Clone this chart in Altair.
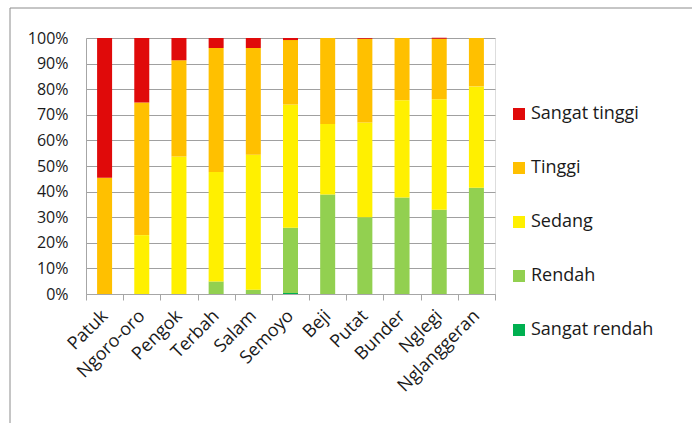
import altair as alt
import pandas as pd

# Villages (x categories)
desa = ["Patuk", "Ngoro-oro", "Pengok", "Terbah", "Salam", "Semoyo",
        "Beji", "Putat", "Bunder", "Nglegi", "Nglanggeran"]

# Share of each class per village (percent)
sangat_rendah = [0.0, 0.0, 0.0, 0.0, 0.0, 0.4, 0.0, 0.0, 0.0, 0.0, 0.0]
rendah        = [0.0, 0.0, 0.0, 4.9, 1.7, 25.5, 38.9, 30.0, 37.7, 32.9, 41.5]
sedang        = [0.0, 23.0, 53.7, 42.8, 52.7, 48.1, 27.5, 37.0, 38.0, 43.2, 39.6]
tinggi        = [45.4, 51.8, 37.6, 48.4, 41.7, 25.2, 33.6, 32.7, 24.3, 23.6, 18.9]
sangat_tinggi = [54.6, 25.2, 8.7, 3.9, 3.9, 0.8, 0.0, 0.3, 0.0, 0.4, 0.0]

kelas = ["Sangat tinggi", "Tinggi", "Sedang", "Rendah", "Sangat rendah"]
warna = ["#E00A0A", "#FFC000", "#FFF000", "#92D050", "#00B050"]
series = {
    "Sangat rendah": sangat_rendah,
    "Rendah": rendah,
    "Sedang": sedang,
    "Tinggi": tinggi,
    "Sangat tinggi": sangat_tinggi,
}

rows = []
for k, vals in series.items():
    for d, v in zip(desa, vals):
        rows.append({"desa": d, "kelas": k, "nilai": v / 100.0,
                     "urut": 4 - kelas.index(k)})
df = pd.DataFrame(rows)

FONT = "Open Sans"
TEXT = "#1A1A1A"

bars = alt.Chart(df).mark_bar(size=15).encode(
    x=alt.X("desa:N", sort=desa, title=None,
            scale=alt.Scale(paddingInner=0.0, paddingOuter=0.0),
            axis=alt.Axis(labelAngle=-45, labelAlign="right", labelBaseline="middle",
                          labelFontSize=18, labelFont=FONT, labelColor=TEXT,
                          labelPadding=13, tickBand="extent", tickSize=6,
                          tickColor="#A6A6A6", domainColor="#A6A6A6", grid=False)),
    y=alt.Y("nilai:Q", stack="zero", title=None,
            scale=alt.Scale(domain=[0, 1], nice=False),
            axis=alt.Axis(format=".0%", values=[i / 10 for i in range(11)],
                          labelFontSize=16, labelFont=FONT, labelColor=TEXT,
                          tickSize=0, labelPadding=18, domainColor="#A6A6A6",
                          gridColor="#A0A0A0", gridWidth=1)),
    color=alt.Color("kelas:N", scale=alt.Scale(domain=kelas, range=warna),
                    legend=alt.Legend(title=None, orient="none", legendX=424, legendY=67,
                                      symbolType="square", symbolSize=144,
                                      symbolStrokeWidth=0, labelFontSize=18,
                                      labelFont=FONT, labelColor=TEXT,
                                      rowPadding=36, padding=0, labelOffset=3)),
    order=alt.Order("urut:Q", sort="ascending"),
)

# Outer frame lines (top and left)
frame_top = alt.Chart(pd.DataFrame({"a": [0]})).mark_rule(color="#8C8C8C", strokeWidth=1).encode(
    x=alt.value(-76), x2=alt.value(606), y=alt.value(-30))
frame_left = alt.Chart(pd.DataFrame({"a": [0]})).mark_rule(color="#8C8C8C", strokeWidth=1).encode(
    x=alt.value(-76), y=alt.value(-30), y2=alt.value(385))

chart = alt.layer(frame_top, frame_left, bars).properties(
    width=409, height=256,
    autosize=alt.AutoSizeParams(type="none"),
    padding={"left": 86, "top": 38, "right": 197, "bottom": 129},
).configure_view(stroke=None).configure(background="white")

chart.save("out.html", embed_options={"renderer": "svg", "actions": False})
